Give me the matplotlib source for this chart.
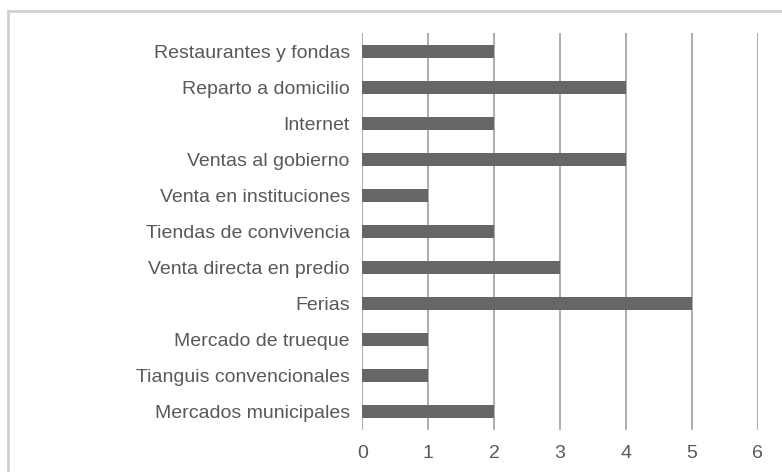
import matplotlib
matplotlib.use("Agg")
import matplotlib.pyplot as plt
from matplotlib.patches import Rectangle

categories = [
    "Mercados municipales",
    "Tianguis convencionales",
    "Mercado de trueque",
    "Ferias",
    "Venta directa en predio",
    "Tiendas de convivencia",
    "Venta en instituciones",
    "Ventas al gobierno",
    "Internet",
    "Reparto a domicilio",
    "Restaurantes y fondas",
]
values = [2, 1, 1, 5, 3, 2, 1, 4, 2, 4, 2]
xticks = [0, 1, 2, 3, 4, 5, 6]

plt.rcParams['font.family'] = ['Liberation Sans', 'DejaVu Sans']

fig = plt.figure(figsize=(7.82, 4.72), dpi=100)
ax = fig.add_axes([362.3 / 782, 1 - 430 / 472, (757.7 - 362.3) / 782, (430 - 33) / 472])

ypos = list(range(len(categories)))
ax.barh(ypos, values, height=0.36, color="#666666", zorder=3)

ax.set_xlim(0, 6)
ax.set_ylim(-0.5, len(categories) - 0.5)
ax.set_xticks(xticks)
ax.set_xticklabels([str(t) for t in xticks])
ax.set_yticks(ypos)
ax.set_yticklabels(categories)

for s in ax.spines.values():
    s.set_visible(False)
ax.grid(axis="x", color="#a6a6a6", linewidth=1.3, zorder=0)
ax.tick_params(axis="both", length=0, labelcolor="#595959", labelsize=14)
ax.tick_params(axis="y", pad=9)
ax.tick_params(axis="x", pad=11)

# figure border (partly cropped)
fig.patches.append(Rectangle((7.5 / 782, -0.1), 1.2, 1 - 11 / 472 + 0.1,
                             transform=fig.transFigure, fill=False,
                             edgecolor="#d0d0d0", linewidth=2))

fig.savefig("out.png", dpi=100)
